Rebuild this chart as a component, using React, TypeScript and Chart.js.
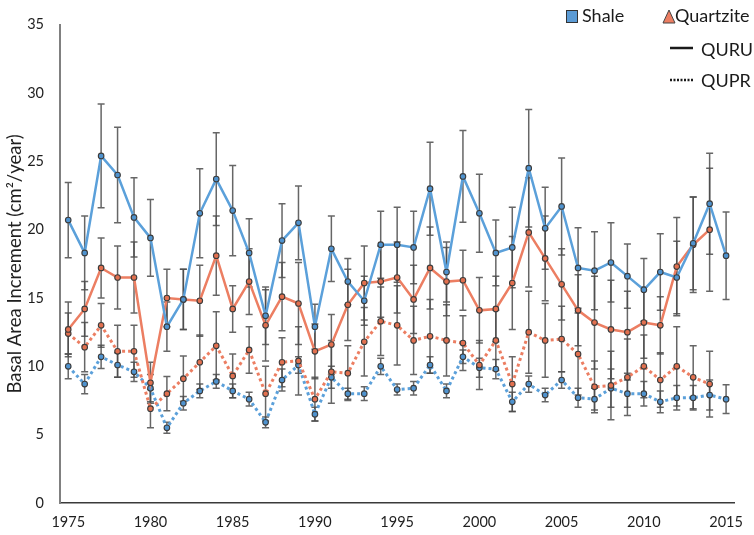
import React, { useEffect, useRef } from "react";
import { Chart, registerables } from "chart.js";

Chart.register(...registerables);

const years = [
  1975, 1976, 1977, 1978, 1979, 1980, 1981, 1982, 1983, 1984,
  1985, 1986, 1987, 1988, 1989, 1990, 1991, 1992, 1993, 1994,
  1995, 1996, 1997, 1998, 1999, 2000, 2001, 2002, 2003, 2004,
  2005, 2006, 2007, 2008, 2009, 2010, 2011, 2012, 2013, 2014, 2015,
];
const xTicks = [1975, 1980, 1985, 1990, 1995, 2000, 2005, 2010, 2015];
const yTicks = [0, 5, 10, 15, 20, 25, 30, 35];

const shaleQURU = [
  20.7, 18.3, 25.4, 24.0, 20.9, 19.4, 12.9, 14.9, 21.2, 23.7,
  21.4, 18.3, 13.7, 19.2, 20.5, 12.9, 18.6, 16.2, 14.8, 18.9,
  18.9, 18.7, 23.0, 16.9, 23.9, 21.2, 18.3, 18.7, 24.5, 20.1,
  21.7, 17.2, 17.0, 17.6, 16.6, 15.6, 16.9, 16.5, 19.0, 21.9, 18.1,
];
const shaleQURUErr = [
  2.75, 2.7, 3.8, 3.5, 2.9, 2.8, 1.8, 2.2, 3.25, 3.4,
  3.3, 2.5, 2.1, 2.7, 2.7, 1.65, 2.4, 1.7, 1.8, 2.45,
  2.75, 2.65, 3.4, 2.2, 3.35, 2.85, 2.4, 2.95, 4.3, 3.0,
  3.55, 2.95, 2.85, 2.9, 2.35, 2.3, 2.8, 2.65, 3.4, 3.7, 3.2,
];

const quartziteQURU = [
  12.7, 14.2, 17.2, 16.5, 16.5, 8.8, 15.0, 14.9, 14.8, 18.1,
  14.2, 16.2, 13.0, 15.1, 14.6, 11.1, 11.6, 14.5, 16.1, 16.2,
  16.5, 14.9, 17.2, 16.2, 16.3, 14.1, 14.2, 16.1, 19.8, 17.9,
  16.0, 14.1, 13.2, 12.7, 12.5, 13.2, 13.0, 17.3, 18.9, 20.0,
];
const quartziteQURUErr = [
  2.0, 2.0, 2.2, 2.3, 2.6, 1.5, 2.1, 2.2, 2.6, 2.9,
  1.7, 2.4, 2.6, 2.5, 3.0, 2.0, 2.2, 2.6, 2.7, 2.6,
  2.6, 2.5, 3.0, 2.5, 2.2, 2.4, 2.4, 3.4, 4.0, 3.1,
  2.6, 2.6, 3.4, 3.6, 3.0, 2.6, 2.1, 3.6, 3.5, 4.5,
];

const quartziteQUPR = [
  12.4, 11.4, 13.0, 11.1, 11.1, 6.9, 8.0, 9.1, 10.3, 11.5,
  9.3, 11.2, 8.0, 10.3, 10.4, 7.6, 9.6, 9.5, 11.8, 13.3,
  13.0, 11.9, 12.2, 11.9, 11.7, 10.1, 11.9, 8.7, 12.5, 11.9,
  12.0, 10.9, 8.5, 8.6, 9.2, 10.0, 9.0, 10.0, 9.2, 8.7,
];
const quartziteQUPRErr = [
  1.5, 1.8, 1.6, 1.9, 1.9, 1.4, 1.25, 1.65, 2.0, 2.5,
  1.6, 1.7, 2.0, 1.8, 2.5, 1.6, 2.3, 2.0, 2.5, 2.5,
  2.9, 2.5, 2.7, 2.6, 2.0, 1.8, 2.2, 2.0, 3.0, 2.7,
  2.4, 3.0, 1.9, 2.5, 2.8, 2.3, 2.0, 2.9, 2.3, 2.4,
];

const shaleQUPR = [
  10.0, 8.7, 10.7, 10.1, 9.6, 8.4, 5.5, 7.3, 8.2, 8.9,
  8.2, 7.6, 5.9, 9.0, 10.1, 6.5, 9.2, 8.0, 8.0, 10.0,
  8.3, 8.4, 10.1, 8.2, 10.7, 9.9, 9.8, 7.4, 8.7, 7.9,
  9.0, 7.7, 7.6, 8.4, 8.0, 8.0, 7.4, 7.7, 7.7, 7.9, 7.6,
];
const shaleQUPRErr = [
  0.9, 0.7, 0.85, 0.9, 0.7, 1.0, 0.4, 0.5, 0.5, 0.5,
  0.5, 0.5, 0.4, 0.8, 0.6, 0.5, 0.8, 0.4, 0.5, 0.6,
  0.4, 0.5, 0.6, 0.5, 0.5, 0.7, 0.7, 0.7, 0.6, 0.5,
  0.6, 0.7, 0.8, 1.4, 1.0, 0.9, 0.8, 0.9, 0.9, 1.1, 1.05,
];

const FONT = "Lato, 'Open Sans', sans-serif";
const BLUE = "#5ba0da";
const BLUE_PT = "#4f93cf";
const ORANGE = "#ec7e62";
const ORANGE_PT = "#e2704f";
const PT_BORDER = "#3c3c3c";

const toPoints = (vals: number[]) => vals.map((v, i) => ({ x: years[i], y: v }));

const errorBarPlugin = {
  id: "errorBars",
  beforeDatasetsDraw(chart: any) {
    const ctx = chart.ctx;
    const ys = chart.scales.y;
    ctx.save();
    ctx.strokeStyle = "rgba(75,75,75,0.85)";
    ctx.lineWidth = 1.5;
    chart.data.datasets.forEach((ds: any, i: number) => {
      const meta = chart.getDatasetMeta(i);
      meta.data.forEach((pt: any, j: number) => {
        const v = ds.data[j].y;
        const e = ds.errors[j];
        const x = pt.x;
        const y1 = ys.getPixelForValue(v + e);
        const y2 = ys.getPixelForValue(v - e);
        ctx.beginPath();
        ctx.moveTo(x, y1);
        ctx.lineTo(x, y2);
        ctx.moveTo(x - 3.5, y1);
        ctx.lineTo(x + 3.5, y1);
        ctx.moveTo(x - 3.5, y2);
        ctx.lineTo(x + 3.5, y2);
        ctx.stroke();
      });
    });
    ctx.restore();
  },
};

const legendPlugin = {
  id: "customLegend",
  afterDraw(chart: any) {
    const ctx = chart.ctx;
    ctx.save();
    ctx.font = `18px ${FONT}`;
    ctx.textBaseline = "middle";
    ctx.textAlign = "left";
    // Shale square
    ctx.fillStyle = "#5b9bd5";
    ctx.fillRect(566.5, 10.5, 11, 12);
    ctx.strokeStyle = "#333";
    ctx.lineWidth = 1;
    ctx.strokeRect(566.5, 10.5, 11, 12);
    ctx.fillStyle = "#1a1a1a";
    ctx.fillText("Shale", 582, 16);
    // Quartzite triangle
    ctx.beginPath();
    ctx.moveTo(663, 23);
    ctx.lineTo(675, 23);
    ctx.lineTo(669, 10);
    ctx.closePath();
    ctx.fillStyle = ORANGE;
    ctx.fill();
    ctx.strokeStyle = "#444";
    ctx.stroke();
    ctx.fillStyle = "#1a1a1a";
    ctx.fillText("Quartzite", 675, 16);
    // QURU solid line
    ctx.strokeStyle = "#1a1a1a";
    ctx.lineWidth = 2.5;
    ctx.beginPath();
    ctx.moveTo(670, 48);
    ctx.lineTo(693, 48);
    ctx.stroke();
    ctx.fillText("QURU", 701, 50);
    // QUPR dotted line
    ctx.setLineDash([2, 1.5]);
    ctx.beginPath();
    ctx.moveTo(670, 80);
    ctx.lineTo(693, 80);
    ctx.stroke();
    ctx.setLineDash([]);
    ctx.fillText("QUPR", 701, 81);
    ctx.restore();
  },
};

export default function App() {
  const canvasRef = useRef<HTMLCanvasElement | null>(null);

  useEffect(() => {
    if (!canvasRef.current) return;
    const mk = (label: string, vals: number[], errs: number[], color: string, ptColor: string, dotted: boolean) => ({
      label,
      data: toPoints(vals),
      errors: errs,
      borderColor: color,
      backgroundColor: ptColor,
      borderWidth: dotted ? 3 : 2.5,
      borderDash: dotted ? [3, 3] : [],
      pointRadius: 2.8,
      pointBackgroundColor: ptColor,
      pointBorderColor: PT_BORDER,
      pointBorderWidth: 1.1,
      tension: 0,
      fill: false,
    });

    const chart = new Chart(canvasRef.current, {
      type: "line",
      data: {
        datasets: [
          mk("Shale QURU", shaleQURU, shaleQURUErr, BLUE, BLUE_PT, false),
          mk("Quartzite QURU", quartziteQURU, quartziteQURUErr, ORANGE, ORANGE_PT, false),
          mk("Quartzite QUPR", quartziteQUPR, quartziteQUPRErr, ORANGE, ORANGE_PT, true),
          mk("Shale QUPR", shaleQUPR, shaleQUPRErr, BLUE, BLUE_PT, true),
        ] as any,
      },
      options: {
        responsive: false,
        animation: false,
        devicePixelRatio: 1,
        layout: { padding: { top: 22, right: 8, left: 0, bottom: 0 } },
        plugins: {
          legend: { display: false },
          tooltip: { enabled: false },
        },
        scales: {
          x: {
            type: "linear",
            min: 1974.5,
            max: 2015.5,
            grid: { display: false, drawTicks: false },
            border: { display: true, color: "#3a3a3a", width: 1.5 },
            ticks: {
              padding: 11,
              color: "#1f1f1f",
              font: { family: FONT, size: 14.5 },
              callback: (v: any) => String(v),
            },
            afterBuildTicks: (s: any) => {
              s.ticks = xTicks.map((v) => ({ value: v }));
            },
            afterFit: (s: any) => {
              s.height = 32;
            },
          },
          y: {
            type: "linear",
            min: 0,
            max: 35,
            grid: { display: false, drawTicks: false },
            border: { display: true, color: "#808080", width: 2 },
            ticks: {
              padding: 16,
              color: "#1f1f1f",
              font: { family: FONT, size: 14.5 },
              callback: (v: any) => String(v),
            },
            afterBuildTicks: (s: any) => {
              s.ticks = yTicks.map((v) => ({ value: v }));
            },
            afterFit: (s: any) => {
              s.width = 60;
            },
            title: {
              display: true,
              text: "Basal Area Increment (cm²/year)",
              color: "#1f1f1f",
              font: { family: FONT, size: 18.5 },
              padding: { top: 4, bottom: 0 },
            },
          },
        },
      } as any,
      plugins: [errorBarPlugin, legendPlugin],
    });
    return () => chart.destroy();
  }, []);

  return (
    <div style={{ position: "fixed", left: 0, top: 0, width: 754, height: 535, background: "#fff" }}>
      <canvas ref={canvasRef} width={754} height={535} style={{ display: "block" }} />
    </div>
  );
}
